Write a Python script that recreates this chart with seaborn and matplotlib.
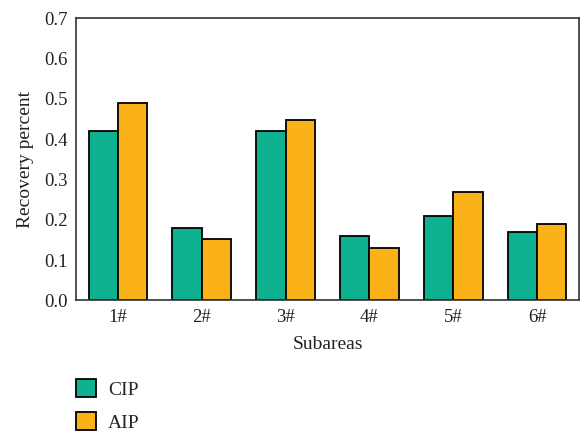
import matplotlib
matplotlib.use("Agg")
import matplotlib.pyplot as plt
import matplotlib.patches as mpatches
import pandas as pd
import seaborn as sns

subareas = ["1#", "2#", "3#", "4#", "5#", "6#"]
cip = [0.42, 0.18, 0.42, 0.16, 0.21, 0.17]
aip = [0.49, 0.153, 0.448, 0.13, 0.27, 0.19]
methods = ["CIP", "AIP"]
colors = ["#0DB08F", "#FBB118"]

df = pd.DataFrame({
    "Subarea": subareas * 2,
    "Recovery": cip + aip,
    "Method": ["CIP"] * len(subareas) + ["AIP"] * len(subareas),
})

sns.set_style("white")
plt.rcParams["font.family"] = ["Liberation Serif", "DejaVu Serif"]

fig = plt.figure(figsize=(5.81, 4.32), dpi=100)
ax = fig.add_axes([0.1308, 0.3044, 0.8658, 0.6539])

sns.barplot(data=df, x="Subarea", y="Recovery", hue="Method",
            hue_order=methods, palette=colors, width=0.7,
            edgecolor="black", linewidth=1.3, saturation=1, ax=ax,
            legend=False)

ax.set_xlim(-0.5, 5.5)
ax.set_ylim(0, 0.7)
ax.set_yticks([0.0, 0.1, 0.2, 0.3, 0.4, 0.5, 0.6, 0.7])
ax.set_yticklabels([f"{v:.1f}" for v in ax.get_yticks()])
ax.tick_params(axis="both", length=0, labelsize=13.5, colors="#222222", pad=6)
ax.set_xlabel("Subareas", fontsize=14, color="#222222", labelpad=7)
ax.set_ylabel("Recovery percent", fontsize=14, color="#222222", labelpad=7)
for s in ax.spines.values():
    s.set_visible(True)
    s.set_color("#333333")
    s.set_linewidth(1.2)

handles = [mpatches.Patch(facecolor=c, edgecolor="black", linewidth=1.3, label=m)
           for c, m in zip(colors, methods)]
fig.legend(handles=handles, loc="upper left", bbox_to_anchor=(0.1308, 1 - 379 / 432),
           frameon=False, fontsize=14, handlelength=1.05, handleheight=1.05,
           labelspacing=0.68, handletextpad=0.6, borderpad=0, borderaxespad=0)

fig.savefig("out.png", dpi=100)
